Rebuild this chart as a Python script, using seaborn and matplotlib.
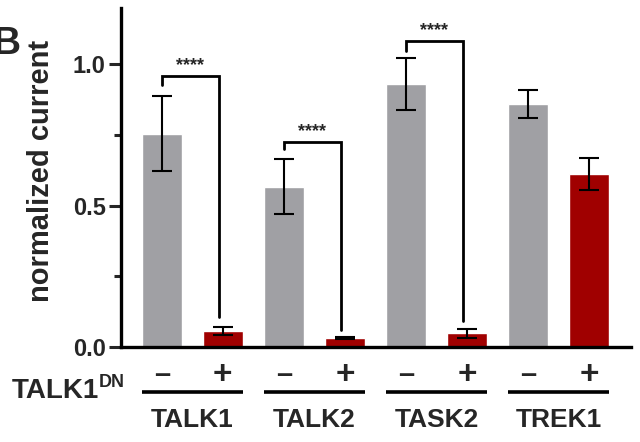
import numpy as np
import pandas as pd
import seaborn as sns
import matplotlib.pyplot as plt
from matplotlib.transforms import blended_transform_factory

# data
channels = ["TALK1", "TALK2", "TASK2", "TREK1"]
talk1dn = ["-", "+"]
means = [0.755, 0.058, 0.568, 0.032, 0.931, 0.048, 0.860, 0.612]
errs = [0.133, 0.014, 0.098, 0.005, 0.092, 0.015, 0.048, 0.056]
# significance brackets: (channel index, bracket height, left leg end, right leg end)
sig = [(0, 0.958, 0.929, 0.107), (1, 0.725, 0.700, 0.060), (2, 1.083, 1.047, 0.092)]

grey = "#A0A0A4"
red = "#A00000"

df = pd.DataFrame({
    "channel": np.repeat(channels, 2),
    "dn": talk1dn * len(channels),
    "current": means,
})
df["cond"] = df["channel"] + " " + df["dn"]

sns.set_theme(style="ticks")
plt.rcParams["font.family"] = ["Liberation Sans", "DejaVu Sans"]
plt.rcParams["font.weight"] = "bold"

fig = plt.figure(figsize=(6.4, 4.42), dpi=100)
ax = fig.add_axes([0.189, 0.215, 0.797, 0.767])

sns.barplot(data=df, x="cond", y="current", hue="cond",
            palette=[grey if d == "-" else red for d in df["dn"]],
            errorbar=None, width=0.66, legend=False, ax=ax, saturation=1)
xs = np.arange(len(df))
ax.errorbar(xs, df["current"], yerr=errs, fmt="none", ecolor="black",
            elinewidth=1.5, capsize=7.5, capthick=1.5, zorder=3)

# brackets
for i, h, l_end, r_end in sig:
    x0, x1 = 2 * i, 2 * i + 1 - 0.07
    ax.plot([x0, x0, x1, x1], [l_end, h, h, r_end], color="black", lw=2.0,
            solid_joinstyle="miter", zorder=4)
    ax.text((x0 + x1) / 2, h + 0.008, "****", ha="center", va="bottom",
            fontsize=13, fontweight="bold")

ax.set_xlim(-0.67, 7.69)
ax.set_ylim(0, 1.2)
ax.set_yticks([0, 0.5, 1.0])
ax.set_yticklabels(["0.0", "0.5", "1.0"], fontsize=17, fontweight="bold")
ax.set_yticks([0.25, 0.75], minor=True)
ax.tick_params(axis="y", which="major", length=9, width=2.2, pad=2)
ax.tick_params(axis="y", which="minor", length=5, width=2.2)
ax.set_xticks([])
ax.set_xlabel("")
ax.set_ylabel("normalized current", fontsize=21, fontweight="bold")
ax.yaxis.set_label_coords(-0.13, 0.52)
for s in ["top", "right"]:
    ax.spines[s].set_visible(False)
for s in ["left", "bottom"]:
    ax.spines[s].set_linewidth(2.4)
    ax.spines[s].set_color("black")

# -/+ rows and group labels below the axis
tr = blended_transform_factory(ax.transData, ax.transAxes)
for k, row in df.iterrows():
    if row["dn"] == "-":
        ax.text(k, -0.082, "\u2013", transform=tr, ha="center", va="center",
                fontsize=21, fontweight="bold", clip_on=False)
    else:
        ax.text(k, -0.085, "+", transform=tr, ha="center", va="center",
                fontsize=24, fontweight="bold", clip_on=False)
for i, ch in enumerate(channels):
    ax.plot([2 * i - 0.33, 2 * i + 1 + 0.33], [-0.133, -0.133], transform=tr,
            color="black", lw=2.6, clip_on=False, solid_capstyle="butt")
    ax.text(2 * i + 0.5, -0.216, ch, transform=tr, ha="center", va="center",
            fontsize=19, fontweight="bold")

ax.text(-1.03, -0.13, "TALK1", transform=tr, ha="right", va="center",
        fontsize=20, fontweight="bold")
ax.text(-1.03, -0.105, "DN", transform=tr, ha="left", va="center",
        fontsize=13, fontweight="bold")

fig.text(-0.012, 0.9, "B", fontsize=28, fontweight="bold", va="center")

fig.savefig("out.png", dpi=100)
